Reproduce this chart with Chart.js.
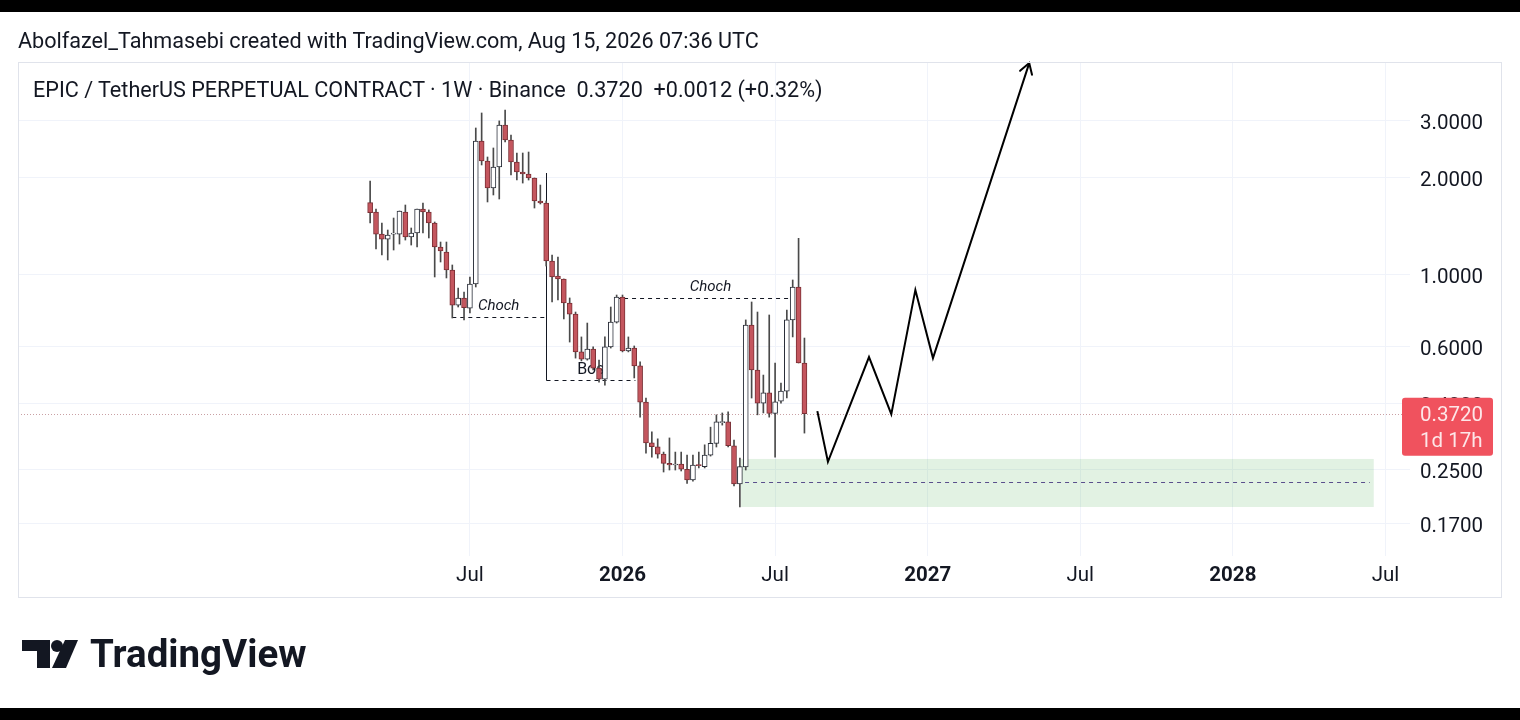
<!DOCTYPE html>
<html><head><meta charset="utf-8">
<script src="https://cdn.jsdelivr.net/npm/chart.js@4.4.1/dist/chart.umd.min.js"></script>
<style>
html,body{margin:0;padding:0;background:#fff;width:1520px;height:720px;overflow:hidden;font-family:Roboto,'Noto Sans',sans-serif;}
#c{position:absolute;left:0;top:0;}
.bar{position:absolute;left:0;width:1520px;background:#000;}
#hdr{position:absolute;left:18px;top:28px;font-size:21.6px;line-height:26px;color:#131722;white-space:nowrap;}
#ttl{position:absolute;left:33px;top:77px;font-size:21.6px;line-height:26px;color:#131722;white-space:nowrap;}
#tv{position:absolute;left:90px;top:635px;font-size:38.5px;line-height:38px;font-weight:700;color:#131722;white-space:nowrap;}
#logo{position:absolute;left:22px;top:640px;}
</style></head><body>
<canvas id="c" width="1520" height="720"></canvas>
<div class="bar" style="top:0;height:12px"></div>
<div class="bar" style="top:708px;height:12px"></div>
<div id="hdr">Abolfazel_Tahmasebi created with TradingView.com, Aug 15, 2026 07:36 UTC</div>
<div id="ttl">EPIC / TetherUS PERPETUAL CONTRACT · 1W · Binance&nbsp; 0.3720&nbsp; +0.0012 (+0.32%)</div>
<svg id="logo" width="60" height="30" viewBox="0 0 60 30">
  <polygon points="0,0 28,0 28,28 15,28 15,11 0,11" fill="#131722"/>
  <circle cx="35" cy="6" r="6" fill="#131722"/>
  <polygon points="43,0 56,0 44,28 30,28" fill="#131722"/>
</svg>
<div id="tv">TradingView</div>
<script>
// Weekly candles, week index 0 = week of 2025-03-10
const opens  = [1.675,1.567,1.339,1.292,1.339,1.339,1.567,1.311,1.349,1.601,1.567,1.449,1.221,1.178,1.036,0.807,0.849,0.790,0.938,2.599,2.254,1.859,2.160,2.913,2.618,2.238,2.084,2.055,1.997,1.695,1.671,1.105,0.993,0.972,0.819,0.757,0.578,0.549,0.590,0.515,0.476,0.599,0.715,0.855,0.582,0.594,0.523,0.404,0.302,0.294,0.279,0.261,0.258,0.260,0.2504,0.232,0.258,0.255,0.277,0.301,0.349,0.351,0.296,0.2254,0.2544,0.700,0.508,0.401,0.432,0.373,0.407,0.437,0.726,0.918,0.534];
const highs  = [1.954,1.601,1.449,1.378,1.501,1.578,1.647,1.398,1.601,1.671,1.590,1.459,1.265,1.265,1.074,0.911,0.886,0.986,2.852,3.174,2.319,2.473,3.000,3.243,2.713,2.386,2.386,2.403,1.997,1.899,1.695,1.153,1.137,0.972,0.849,0.768,0.643,0.710,0.599,0.545,0.643,0.796,0.867,0.867,0.643,0.603,0.538,0.416,0.327,0.311,0.283,0.313,0.283,0.283,0.277,0.277,0.283,0.298,0.338,0.369,0.374,0.377,0.308,0.271,0.726,0.825,0.768,0.490,0.752,0.534,0.463,0.779,0.965,1.299,0.638];
const lows   = [1.449,1.204,1.153,1.113,1.195,1.247,1.283,1.238,1.221,1.349,1.302,0.986,1.097,0.979,0.736,0.796,0.726,0.763,0.918,2.191,1.683,1.769,1.719,2.581,2.040,1.968,1.926,1.968,1.612,1.659,1.066,0.825,0.837,0.731,0.620,0.553,0.542,0.545,0.508,0.466,0.456,0.594,0.710,0.578,0.578,0.480,0.363,0.281,0.273,0.271,0.2455,0.249,0.249,0.2473,0.2265,0.230,0.2527,0.2527,0.275,0.2934,0.343,0.2934,0.2222,0.1913,0.249,0.416,0.369,0.374,0.363,0.273,0.401,0.416,0.643,0.534,0.324];
const closes = [1.559,1.339,1.292,1.330,1.344,1.578,1.311,1.349,1.601,1.567,1.449,1.221,1.187,1.036,0.807,0.849,0.792,0.938,2.599,2.254,1.859,2.160,2.913,2.618,2.238,2.084,2.055,1.997,1.695,1.671,1.105,0.986,0.972,0.819,0.757,0.578,0.549,0.590,0.515,0.476,0.599,0.715,0.855,0.582,0.594,0.523,0.404,0.302,0.294,0.279,0.261,0.258,0.260,0.2504,0.232,0.258,0.257,0.277,0.301,0.351,0.351,0.296,0.2254,0.255,0.700,0.508,0.401,0.432,0.373,0.405,0.437,0.726,0.918,0.534,0.372];

const xTickPos    = [17, 43, 69, 95, 121, 147, 173];
const xTickLabels = ['Jul','2026','Jul','2027','Jul','2028','Jul'];
const yTicks      = [3, 2, 1, 0.6, 0.4, 0.25, 0.17];

// projected path (week index, price)
const pathX = [76.2, 78.0, 85.0, 88.8, 92.9, 95.9, 112.3];
const pathY = [0.379, 0.264, 0.557, 0.371, 0.899, 0.553, 4.53];

// drawings
const zoneX      = [63.2, 171.0];
const zonePrices = [0.2694, 0.2286, 0.1913];
const chochX0    = [14.0, 41.9];
const chochX1    = [30.0, 71.6];
const chochY     = [0.741, 0.849];
const chochTextX = [21.9, 58.0];
const bosX       = [30.0, 45.2];
const bosTop     = 2.069;
const bosY       = 0.473;
const bosTextX   = 37.6;
const lastPrice  = 0.372;

const xMin = -60, xMax = 177.18;
const yMin = 0.1349, yMax = 4.565;

const idx = opens.map((_, i) => i);
const bodyData = idx.map(i => ({x: i, y: [Math.min(opens[i], closes[i]), Math.max(opens[i], closes[i])]}));
const wickData = idx.map(i => ({x: i, y: [lows[i], highs[i]]}));
const isUp = idx.map(i => closes[i] >= opens[i]);

const drawings = {
  id: 'drawings',
  beforeDatasetsDraw(chart) {
    const {ctx, chartArea: a, scales: {x, y}} = chart;
    ctx.save();
    ctx.beginPath(); ctx.rect(a.left, a.top, a.right - a.left, a.bottom - a.top); ctx.clip();
    // zone
    const zx0 = x.getPixelForValue(zoneX[0]), zx1 = x.getPixelForValue(zoneX[1]);
    const zy0 = y.getPixelForValue(zonePrices[0]), zy2 = y.getPixelForValue(zonePrices[2]);
    ctx.fillStyle = 'rgba(76,175,80,0.16)';
    ctx.fillRect(zx0, zy0, zx1 - zx0, zy2 - zy0);
    ctx.strokeStyle = '#5a4f8c'; ctx.lineWidth = 1; ctx.setLineDash([4, 4]);
    const zm = Math.round(y.getPixelForValue(zonePrices[1])) + 0.5;
    ctx.beginPath(); ctx.moveTo(zx0 + 4, zm); ctx.lineTo(zx1 - 4, zm); ctx.stroke();
    // last price dotted line
    ctx.strokeStyle = '#c9a0a4'; ctx.setLineDash([1, 2]);
    const py = Math.round(y.getPixelForValue(lastPrice)) + 0.5;
    ctx.beginPath(); ctx.moveTo(a.left, py); ctx.lineTo(a.right, py); ctx.stroke();
    // choch lines
    ctx.strokeStyle = '#131722'; ctx.setLineDash([4, 4]);
    ctx.fillStyle = '#131722';
    ctx.font = 'italic 15px Roboto';
    ctx.textAlign = 'center'; ctx.textBaseline = 'alphabetic';
    for (let k = 0; k < chochY.length; k++) {
      const ly = Math.round(y.getPixelForValue(chochY[k])) + 0.5;
      ctx.beginPath(); ctx.moveTo(x.getPixelForValue(chochX0[k]), ly); ctx.lineTo(x.getPixelForValue(chochX1[k]), ly); ctx.stroke();
      ctx.fillText('Choch', x.getPixelForValue(chochTextX[k]), ly - 8);
    }
    // BOS
    const bx0 = Math.round(x.getPixelForValue(bosX[0])) + 0.5;
    const by = Math.round(y.getPixelForValue(bosY)) + 0.5;
    ctx.beginPath(); ctx.moveTo(bx0, by); ctx.lineTo(x.getPixelForValue(bosX[1]), by); ctx.stroke();
    ctx.setLineDash([]);
    ctx.beginPath(); ctx.moveTo(bx0, y.getPixelForValue(bosTop)); ctx.lineTo(bx0, by); ctx.stroke();
    ctx.font = '16px Roboto';
    ctx.fillText('Bos', x.getPixelForValue(bosTextX), by - 7);
    ctx.restore();
  },
  afterDraw(chart) {
    const {ctx, chartArea: a, scales: {x, y}} = chart;
    ctx.save();
    // arrow head
    const n = pathX.length;
    const ex = x.getPixelForValue(pathX[n - 1]), ey = y.getPixelForValue(pathY[n - 1]);
    const sx = x.getPixelForValue(pathX[n - 2]), sy = y.getPixelForValue(pathY[n - 2]);
    const ang = Math.atan2(ey - sy, ex - sx);
    ctx.strokeStyle = '#000'; ctx.lineWidth = 2; ctx.lineCap = 'round';
    ctx.beginPath();
    ctx.moveTo(ex + 12 * Math.cos(ang + Math.PI - 0.55), ey + 12 * Math.sin(ang + Math.PI - 0.55));
    ctx.lineTo(ex, ey);
    ctx.lineTo(ex + 12 * Math.cos(ang + Math.PI + 0.55), ey + 12 * Math.sin(ang + Math.PI + 0.55));
    ctx.stroke();
    // price label
    const py = y.getPixelForValue(lastPrice);
    const bxL = a.right - 8, bxR = a.right + 83, byT = py - 16, byB = py + 42;
    ctx.fillStyle = '#f0525e';
    ctx.beginPath();
    if (ctx.roundRect) ctx.roundRect(bxL, byT, bxR - bxL, byB - byT, 3); else ctx.rect(bxL, byT, bxR - bxL, byB - byT);
    ctx.fill();
    ctx.fillStyle = '#fde6e8';
    ctx.font = '20.5px Roboto'; ctx.textAlign = 'left'; ctx.textBaseline = 'middle';
    ctx.fillText(lastPrice.toFixed(4), a.right + 10, py + 2);
    ctx.fillText('1d 17h', a.right + 10, py + 28);
    // frame
    ctx.strokeStyle = '#e0e3eb'; ctx.lineWidth = 1;
    ctx.strokeRect(18.5, 62.5, 1483, 535);
    ctx.restore();
  }
};

new Chart(document.getElementById('c'), {
  type: 'bar',
  data: {
    datasets: [
      {type: 'bar', data: bodyData, barThickness: 5, grouped: false, minBarLength: 1,
       backgroundColor: isUp.map(u => u ? '#ffffff' : '#c4565e'),
       borderColor: isUp.map(u => u ? '#2a2e39' : '#7a2f35'),
       borderWidth: 1, borderSkipped: false, order: 0},
      {type: 'bar', data: wickData, barThickness: 1, grouped: false,
       backgroundColor: '#4a4a4a', borderWidth: 0, order: 1},
      {type: 'line', data: pathX.map((v, i) => ({x: v, y: pathY[i]})),
       borderColor: '#000', borderWidth: 2, pointRadius: 0, tension: 0, order: 2}
    ]
  },
  options: {
    responsive: false, animation: false, devicePixelRatio: 1,
    layout: {padding: {left: 18, right: 18, top: 62, bottom: 122}},
    plugins: {legend: {display: false}, tooltip: {enabled: false}},
    scales: {
      x: {
        type: 'linear', min: xMin, max: xMax, offset: false,
        grid: {color: '#f0f3fa', drawTicks: false, offset: false},
        border: {display: false},
        ticks: {
          autoSkip: false, maxRotation: 0, padding: 8, color: '#131722',
          font: ctx => {
            const k = ctx.tick ? xTickPos.indexOf(ctx.tick.value) : -1;
            const bold = k >= 0 && /^\d/.test(xTickLabels[k]);
            return {family: 'Roboto', size: 20.5, weight: bold ? 'bold' : 'normal'};
          },
          callback: v => { const k = xTickPos.indexOf(v); return k >= 0 ? xTickLabels[k] : ''; }
        },
        afterBuildTicks: s => { s.ticks = xTickPos.map(v => ({value: v})); },
        afterFit: s => { s.height = 42; }
      },
      y: {
        type: 'logarithmic', position: 'right', min: yMin, max: yMax,
        grid: {color: '#f0f3fa', drawTicks: false},
        border: {display: false},
        ticks: {padding: 10, labelOffset: 3, color: '#131722', font: {family: 'Roboto', size: 20.5},
                callback: v => Number(v).toFixed(4)},
        afterBuildTicks: s => { s.ticks = yTicks.map(v => ({value: v})); },
        afterFit: s => { s.width = 92; }
      }
    }
  },
  plugins: [drawings]
});
</script>
</body></html>
